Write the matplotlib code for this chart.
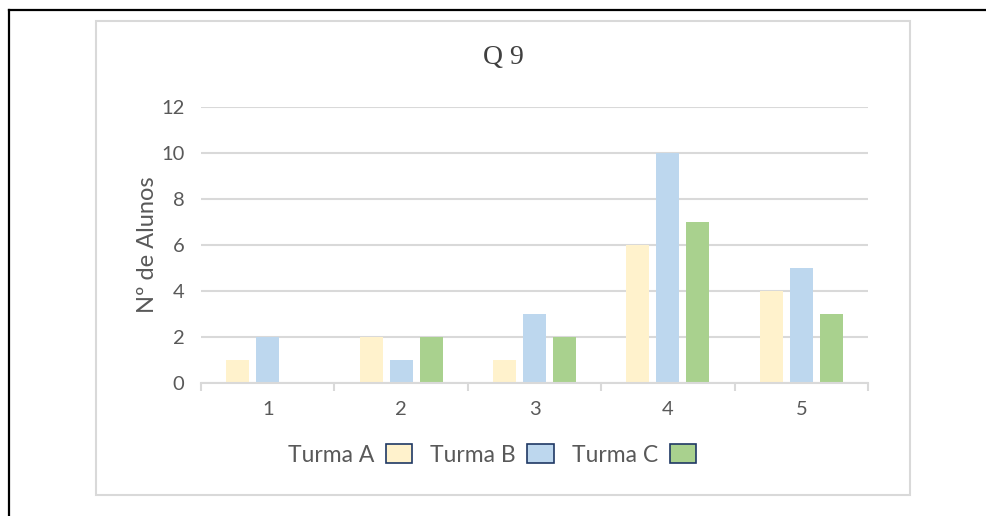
import matplotlib
matplotlib.use("Agg")
import matplotlib.pyplot as plt
import numpy as np
from matplotlib.patches import Patch, Rectangle
from matplotlib.lines import Line2D

categories = ["1", "2", "3", "4", "5"]
turma_a = [1, 2, 1, 6, 4]
turma_b = [2, 1, 3, 10, 5]
turma_c = [0, 2, 2, 7, 3]
series_names = ["Turma A", "Turma B", "Turma C"]
colors = ["#FFF2CC", "#BDD7EE", "#A9D18E"]
title = "Q 9"
ylabel = "Nº de Alunos"

W, H = 986, 516
fig = plt.figure(figsize=(W / 100, H / 100), dpi=100)

def fx(px):
    return px / W

def fy(py):
    return 1 - py / H

# outer border (top and left)
fig.add_artist(Line2D([fx(9), fx(986)], [fy(10), fy(10)], color="#000000", lw=1.6))
fig.add_artist(Line2D([fx(9), fx(9)], [fy(10), fy(516)], color="#000000", lw=1.6))
# chart area box
fig.add_artist(Rectangle((fx(96), fy(495)), fx(910) - fx(96), fy(21) - fy(495),
                         fill=False, edgecolor="#D9D9D9", lw=1.5))

ax = fig.add_axes([fx(201), fy(383), fx(868) - fx(201), fy(107) - fy(383)])
x = np.arange(len(categories))
bw = 0.172
step = 0.225
for i, (vals, c) in enumerate(zip([turma_a, turma_b, turma_c], colors)):
    ax.bar(x + (i - 1) * step, vals, width=bw, color=c, zorder=3)

ax.set_xlim(-0.5, len(categories) - 0.5)
ax.set_ylim(0, 12)
ax.set_yticks(range(0, 13, 2))
ax.grid(axis="y", color="#D9D9D9", lw=1.5, zorder=0)
for s in ["top", "right", "left"]:
    ax.spines[s].set_visible(False)
ax.spines["bottom"].set_color("#D9D9D9")
ax.spines["bottom"].set_linewidth(1.5)
ax.spines["bottom"].set_zorder(4)
ax.set_xticks(x)
ax.set_xticklabels(categories)
ax.set_xticks(np.arange(-0.5, len(categories), 1.0), minor=True)
ax.tick_params(axis="x", which="major", length=0, pad=13, labelsize=14.5, labelcolor="#595959")
ax.tick_params(axis="x", which="minor", length=6, width=1.5, color="#D9D9D9")
ax.tick_params(axis="y", length=0, pad=12, labelsize=14.5, labelcolor="#595959")
for lab in ax.get_xticklabels() + ax.get_yticklabels():
    lab.set_family("Lato")

ax.set_ylabel(ylabel, fontsize=17, color="#595959", family="Lato", labelpad=2)

fig.text(fx(503), fy(58), title, ha="center", va="center", fontsize=20,
         color="#404040", family="Liberation Serif")

handles = [Patch(facecolor=c, edgecolor="#1F3864", lw=1.2) for c in colors]
leg = fig.legend(handles, series_names, loc="center", bbox_to_anchor=(fx(492), fy(455)),
                 ncol=3, frameon=False, markerfirst=False, handlelength=1.15,
                 handleheight=0.85, handletextpad=0.5, columnspacing=0.8,
                 prop={"family": "Lato", "size": 16.5})
for t in leg.get_texts():
    t.set_color("#595959")

fig.savefig("out.png", dpi=100)
